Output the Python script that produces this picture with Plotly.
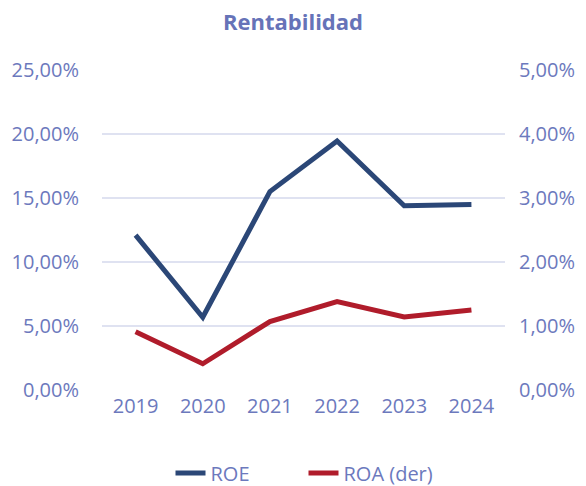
import plotly.graph_objects as go

years = ["2019", "2020", "2021", "2022", "2023", "2024"]
roe = [0.121, 0.0568, 0.155, 0.1945, 0.144, 0.145]
roa = [0.0091, 0.0041, 0.0107, 0.0138, 0.0114, 0.0125]

navy = "#2b4777"
red = "#b01c2b"
label_color = "#6c79bd"
grid_color = "#dfe2f1"

fig = go.Figure()

fig.add_trace(go.Scatter(
    x=years, y=roe, name="ROE", mode="lines",
    line=dict(color=navy, width=5),
))
fig.add_trace(go.Scatter(
    x=years, y=roa, name="ROA (der)", mode="lines", yaxis="y2",
    line=dict(color=red, width=5),
))

fig.update_layout(
    width=586, height=486,
    margin=dict(l=102, r=81, t=70, b=96),
    paper_bgcolor="white", plot_bgcolor="white",
    separators=",.",
    font=dict(family="Open Sans", size=20, color=label_color),
    title=dict(
        text="<b>Rentabilidad</b>", x=0.5, xanchor="center",
        y=0.955, yanchor="middle",
        font=dict(size=22, color="#6673b8"),
    ),
    xaxis=dict(
        type="category", range=[-0.5, 5.5], automargin=False,
        showgrid=False, showline=False, zeroline=False,
        ticks="", ticklabelstandoff=2,
    ),
    yaxis=dict(
        range=[0, 0.25], dtick=0.05, tickformat=".2%", automargin=False,
        showgrid=True, gridcolor=grid_color, gridwidth=2,
        zeroline=False, showline=False, ticks="", ticklabelstandoff=22,
    ),
    yaxis2=dict(
        overlaying="y", side="right", automargin=False,
        range=[0, 0.05], dtick=0.01, tickformat=".2%",
        showgrid=False, zeroline=False, showline=False, ticks="",
        ticklabelstandoff=13,
    ),
    legend=dict(
        orientation="h", x=0.5, xanchor="center",
        yref="container", y=0.027, yanchor="middle",
        font=dict(size=20, color=label_color),
        entrywidth=88,
    ),
    showlegend=True,
)

# drop the default 8px page margin so the chart sits at the window corner
fig.write_html(
    "out.html",
    config={"displayModeBar": False},
    post_script="document.body.style.margin='0';",
)
